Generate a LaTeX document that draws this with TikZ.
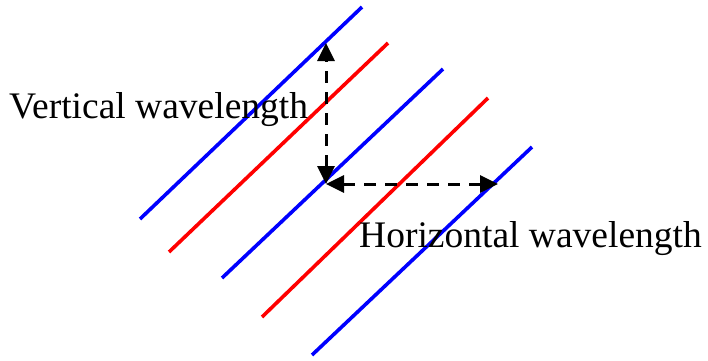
\documentclass[tikz,border=0pt]{standalone}
\usepackage{fontspec}
\setmainfont{Liberation Serif}
\usetikzlibrary{arrows.meta}
\begin{document}
\begin{tikzpicture}[x=1pt,y=-1pt,
  wave/.style={line width=3.6pt},
  bluewave/.style={wave,draw={rgb,255:red,0;green,0;blue,255}},
  redwave/.style={wave,draw={rgb,255:red,255;green,0;blue,0}},
  measure/.style={line width=3pt,dash pattern=on 12pt off 9pt,
    {Triangle[length=18pt,width=17pt]}-{Triangle[length=18pt,width=17pt]}},
  lbl/.style={inner sep=0pt,anchor=base west,font=\fontsize{37.5}{40}\selectfont}]
\useasboundingbox (0,0) rectangle (708,360);
% wave fronts
\coordinate (b1s) at (140,219); \coordinate (b1e) at (362,7);
\coordinate (r1s) at (169,252); \coordinate (r1e) at (388,43);
\coordinate (b2s) at (222,278); \coordinate (b2e) at (443,69);
\coordinate (r2s) at (262,317); \coordinate (r2e) at (488,98);
\coordinate (b3s) at (312,355); \coordinate (b3e) at (532,147);
\draw[bluewave] (b1s) -- (b1e);
\draw[redwave] (r1s) -- (r1e);
\draw[bluewave] (b2s) -- (b2e);
\draw[redwave] (r2s) -- (r2e);
\draw[bluewave] (b3s) -- (b3e);
% measurement points
\coordinate (top) at (326,43);
\coordinate (corner) at (326,184);
\coordinate (right) at (498,184);
\draw[measure] (corner) -- (top);
\draw[measure] (corner) -- (right);
% labels
\node[lbl] (vl) at (9,118) {Vertical wavelength};
\node[lbl] (hl) at (359,247) {Horizontal wavelength};
\end{tikzpicture}
\end{document}
